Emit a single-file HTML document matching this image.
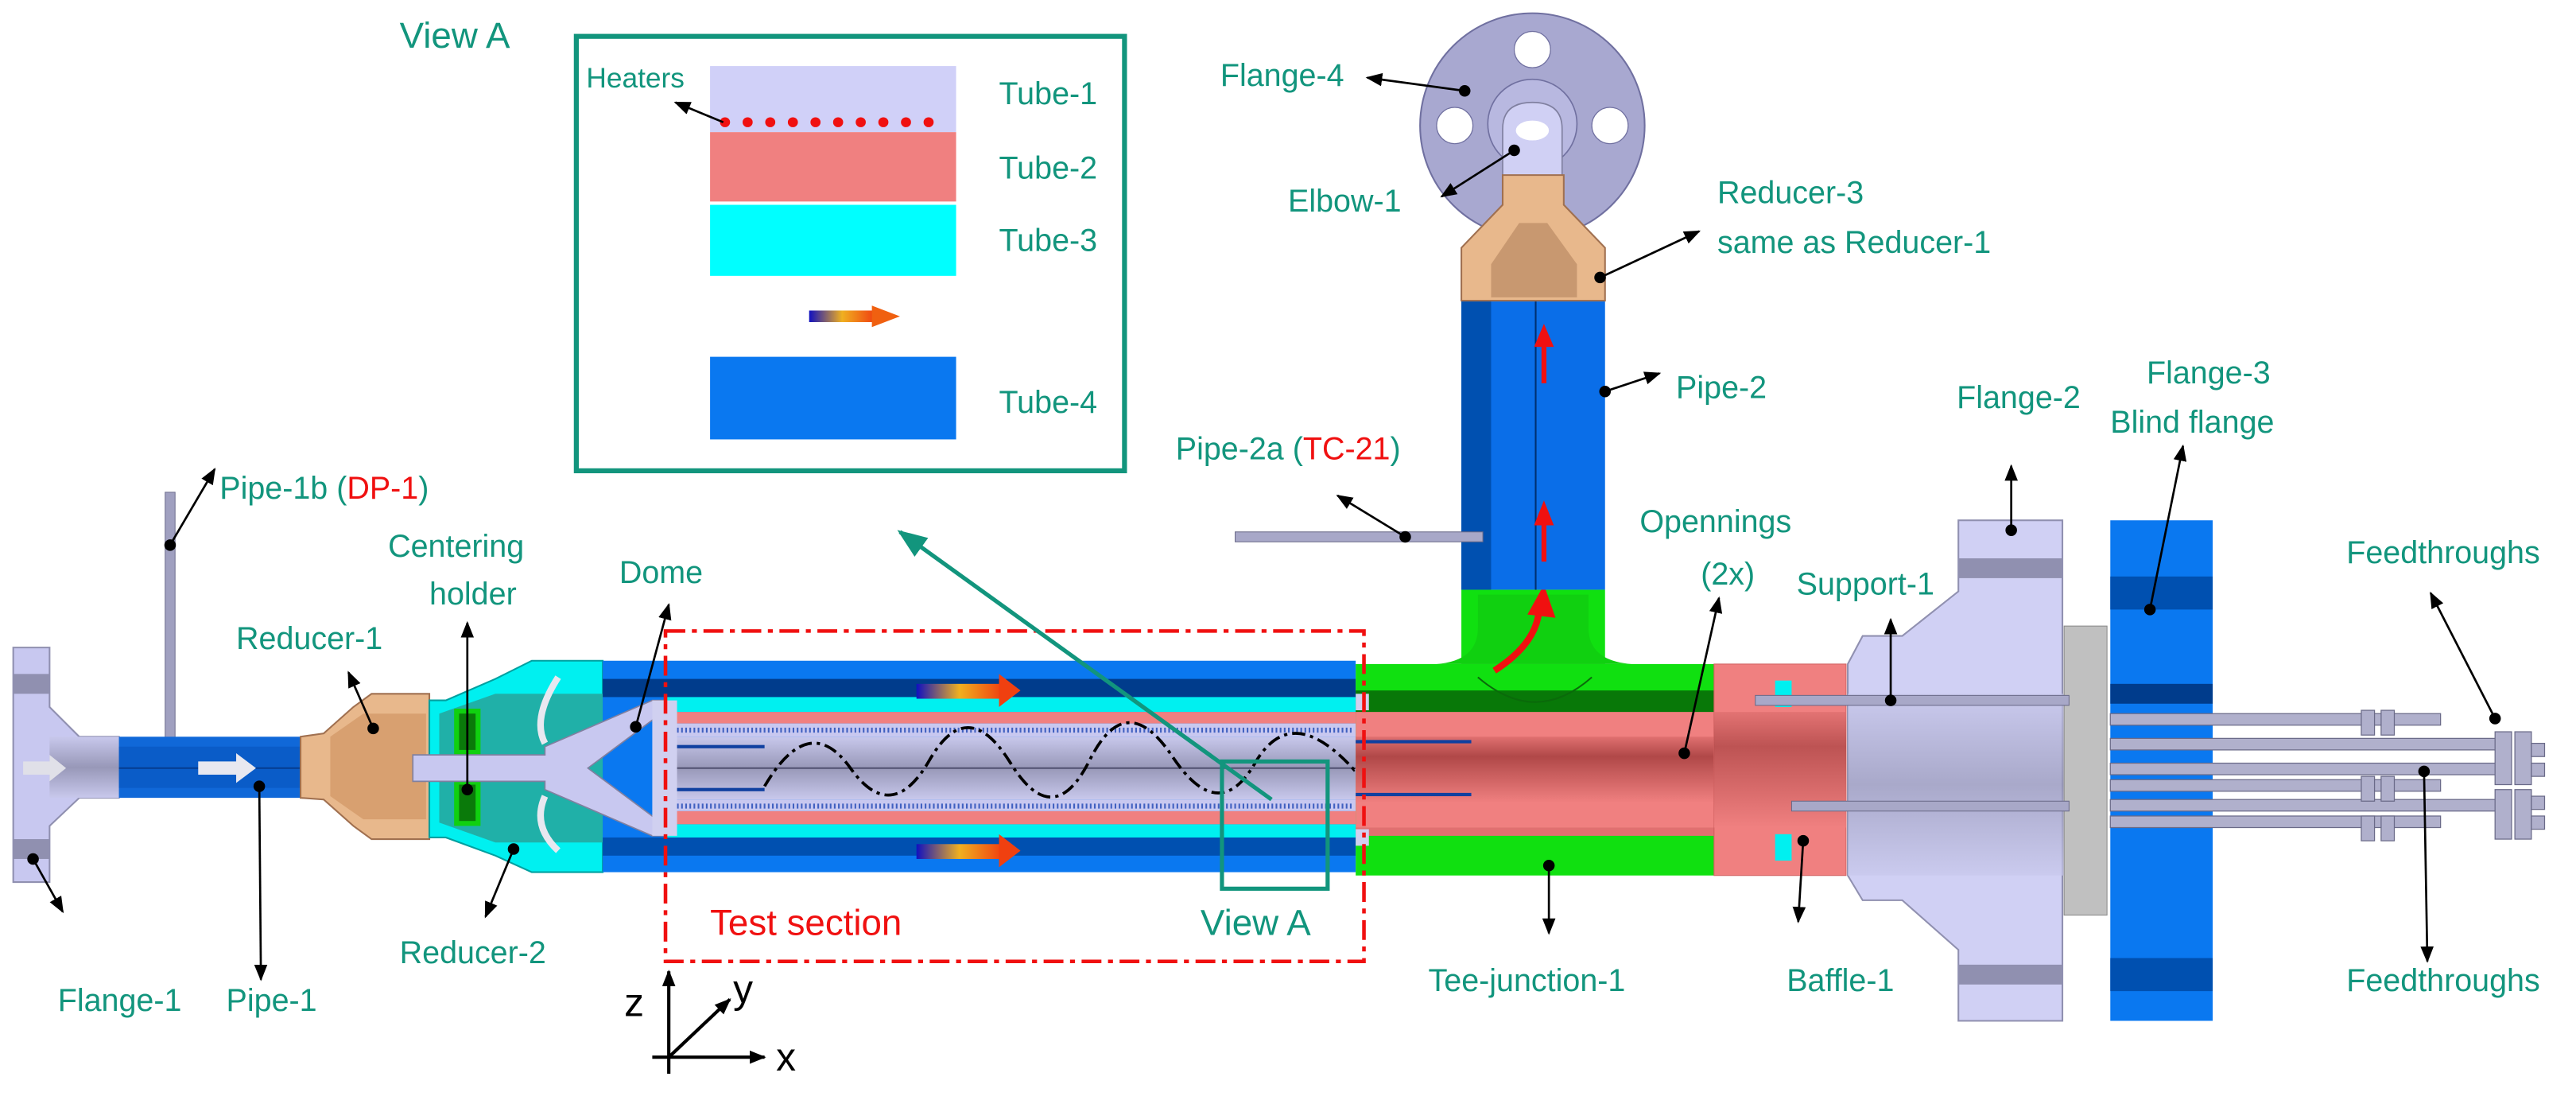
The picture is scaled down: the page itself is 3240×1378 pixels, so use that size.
<!DOCTYPE html>
<html><head><meta charset="utf-8"><style>
html,body{margin:0;padding:0;background:#fff}
svg{display:block}
text{font-family:"Liberation Sans",sans-serif;font-size:19px;fill:#12957d}
</style></head><body>
<svg width="3240" height="1378" viewBox="0 0 1560 663.5" xmlns="http://www.w3.org/2000/svg">
<defs>
<marker id="ah" markerWidth="10" markerHeight="10" refX="9" refY="5" orient="auto" markerUnits="userSpaceOnUse"><path d="M0,1 L10,5 L0,9 z" fill="#000"/></marker>
<marker id="dt" markerWidth="8" markerHeight="8" refX="4" refY="4" markerUnits="userSpaceOnUse"><circle cx="4" cy="4" r="3.5" fill="#000"/></marker>
<marker id="ahT" markerWidth="18" markerHeight="16" refX="16" refY="8" orient="auto" markerUnits="userSpaceOnUse"><path d="M0,1 L18,8 L0,15 z" fill="#12957d"/></marker>
<linearGradient id="hot" x1="0" x2="1"><stop offset="0" stop-color="#1010c0"/><stop offset=".5" stop-color="#f0b020"/><stop offset="1" stop-color="#f04010"/></linearGradient>
<linearGradient id="gry" x1="0" y1="0" x2="0" y2="1"><stop offset="0" stop-color="#c8c8ec"/><stop offset=".5" stop-color="#9898b8"/><stop offset="1" stop-color="#c8c8ec"/></linearGradient>
<linearGradient id="pk" x1="0" y1="0" x2="0" y2="1"><stop offset="0" stop-color="#e07070"/><stop offset=".3" stop-color="#b04848"/><stop offset="1" stop-color="#f08080"/></linearGradient>
</defs>

<!-- Flange-1 -->
<polygon points="8,392 30,392 30,428 48,446 72,446 72,483 48,483 30,500 30,534 8,534" fill="#c8c8f0" stroke="#9090b0" stroke-width="1"/>
<rect x="8" y="408" width="22" height="12" fill="#9090b0"/><rect x="8" y="508" width="22" height="12" fill="#9090b0"/>
<rect x="30" y="446" width="42" height="37" fill="url(#gry)"/>
<!-- Pipe-1b -->
<rect x="100" y="298" width="6" height="150" fill="#a0a0c0" stroke="#707090" stroke-width=".5"/>
<!-- Pipe-1 -->
<rect x="72" y="446" width="110" height="37" fill="#1068d8"/><rect x="72" y="452" width="110" height="25" fill="#0a5cc8"/>
<line x1="72" y1="465" x2="182" y2="465" stroke="#063c90" stroke-width="1"/>
<polygon points="14,461 30,461 30,457 40,465 30,473 30,469 14,469" fill="#e0e0e8"/>
<polygon points="120,461 143,461 143,456 155,465 143,474 143,469 120,469" fill="#e8e8f0"/>
<!-- Reducer-1 -->
<polygon points="182,446 196,444 214,428 225,420 260,420 260,508 225,508 214,500 196,484 182,483" fill="#e8b88c" stroke="#a07050" stroke-width="1"/>
<polygon points="200,446 220,432 258,432 258,496 220,496 200,482" fill="#d8a070"/>
<!-- Reducer-2 -->
<polygon points="260,424 270,424 300,411 322,400 365,400 365,528 322,528 300,518 270,507 260,507" fill="#00f0f0" stroke="#00a0a0" stroke-width="1"/>
<polygon points="266,432 300,420 365,420 365,510 300,510 266,498" fill="#20b0a8"/>
<!-- centering holder -->
<rect x="275" y="429" width="16" height="71" fill="#10d010"/>
<rect x="278" y="432" width="10" height="22" fill="#0a7a0a"/><rect x="278" y="475" width="10" height="22" fill="#0a7a0a"/>
<!-- Main pipe -->
<rect x="365" y="400" width="456" height="128" fill="#0a78f0"/>
<rect x="365" y="411" width="456" height="11" fill="#003c8c"/>
<rect x="365" y="507" width="456" height="11" fill="#0050b0"/>
<rect x="403" y="422" width="418" height="9" fill="#00f0f0"/>
<rect x="403" y="499" width="418" height="8" fill="#00f0f0"/>
<rect x="403" y="431" width="418" height="7" fill="#f08080"/>
<rect x="403" y="491" width="418" height="8" fill="#f08080"/>
<rect x="403" y="438" width="418" height="8" fill="#c8c8f0"/>
<rect x="403" y="484" width="418" height="7" fill="#c8c8f0"/>
<line x1="405" y1="442" x2="820" y2="442" stroke="#4060c0" stroke-width="3" stroke-dasharray="1,1.5"/>
<line x1="405" y1="488" x2="820" y2="488" stroke="#4060c0" stroke-width="3" stroke-dasharray="1,1.5"/>
<rect x="403" y="446" width="418" height="38" fill="url(#gry)"/>
<line x1="403" y1="465" x2="821" y2="465" stroke="#505070" stroke-width="1"/>
<rect x="403" y="451" width="60" height="2" fill="#1040a0"/><rect x="403" y="477" width="60" height="2" fill="#1040a0"/>
<!-- dome/inner lavender -->
<polygon points="250,457 330,457 330,452 395,424 403,424 403,430 356,465 403,500 403,506 395,506 330,478 330,473 250,473" fill="#c8c8f0" stroke="#8080a0" stroke-width=".8"/>
<path d="M338,410 Q322,435 330,450" stroke="#e8e8f0" stroke-width="4" fill="none"/>
<path d="M330,482 Q322,500 338,515" stroke="#e8e8f0" stroke-width="4" fill="none"/>
<polygon points="395,424 410,424 410,506 395,506" fill="#d0d0f0"/>
<!-- flow arrows -->
<rect x="555" y="414" width="52" height="9" fill="url(#hot)"/><polygon points="605,408 618,418 605,428" fill="#f04010"/>
<rect x="555" y="511" width="52" height="9" fill="url(#hot)"/><polygon points="605,505 618,515 605,525" fill="#f04010"/>
<!-- wavy -->
<path d="M463,476 Q490,430 515,465 T563,460 T612,462 T660,460 T710,458 T760,462 T820,466 Q850,440 870,465 L1240,468" stroke="#000" stroke-width="1.8" fill="none" stroke-dasharray="8,3,2,3"/>

<!-- Tee junction -->
<rect x="821" y="402" width="217" height="128" fill="#10e010"/>
<rect x="821" y="418" width="217" height="14" fill="#087808"/>
<path d="M885,402 L885,357 L972,357 L972,402" fill="#10e010"/>
<path d="M870,402 Q895,400 895,380 L895,360 L962,360 L962,380 Q962,400 988,402 Z" fill="#10d010"/>
<path d="M895,410 Q930,440 964,410" stroke="#0a6a0a" stroke-width="1" fill="none"/>
<rect x="821" y="431" width="217" height="70" fill="#f08080"/>
<rect x="821" y="446" width="217" height="40" fill="url(#pk)"/>
<rect x="821" y="501" width="217" height="5" fill="#e07070"/>
<rect x="821" y="448" width="70" height="2" fill="#1040a0"/><rect x="821" y="480" width="70" height="2" fill="#1040a0"/>
<rect x="821" y="420" width="8" height="10" fill="#d0d0f0"/><rect x="821" y="502" width="8" height="10" fill="#d0d0f0"/>
<path d="M905,406 Q930,390 932,370" stroke="#f01010" stroke-width="4" fill="none"/><polygon points="925,372 935,354 942,374" fill="#f01010"/>
<!-- Baffle -->
<rect x="1038" y="402" width="80" height="128" fill="#f08080" stroke="#d06060" stroke-width=".5"/>
<rect x="1038" y="431" width="80" height="70" fill="url(#pk)" opacity=".8"/>
<rect x="1075" y="412" width="10" height="16" fill="#00f0f0"/><rect x="1075" y="505" width="10" height="16" fill="#00f0f0"/>
<!-- Flange-2 -->
<polygon points="1119,402 1128,385 1152,385 1186,358 1186,315 1249,315 1249,618 1186,618 1186,575 1152,545 1128,545 1119,530" fill="#d0d0f4" stroke="#9090b0" stroke-width="1"/>
<rect x="1119" y="420" width="131" height="110" fill="url(#gry)" opacity=".7"/>
<rect x="1186" y="338" width="63" height="12" fill="#9090b0"/><rect x="1186" y="584" width="63" height="12" fill="#9090b0"/>
<rect x="1250" y="379" width="26" height="175" fill="#c0c0c0" stroke="#888" stroke-width=".5"/>
<!-- support rods -->
<rect x="1063" y="421" width="190" height="6" fill="#a8a8c8" stroke="#6a6a88" stroke-width=".5"/>
<rect x="1085" y="485" width="168" height="6" fill="#a8a8c8" stroke="#6a6a88" stroke-width=".5"/>
<!-- Flange-3 -->
<rect x="1278" y="315" width="62" height="303" fill="#0a78f0"/>
<rect x="1278" y="349" width="62" height="20" fill="#0050b0"/><rect x="1278" y="414" width="62" height="12" fill="#003c8c"/>
<rect x="1278" y="580" width="62" height="20" fill="#0050b0"/>
<!-- feedthroughs -->
<g fill="#b0b0cc" stroke="#6a6a88" stroke-width=".6">
<rect x="1278" y="432" width="200" height="7"/><rect x="1278" y="447" width="235" height="7"/>
<rect x="1278" y="462" width="235" height="7"/><rect x="1278" y="472" width="200" height="7"/>
<rect x="1278" y="484" width="235" height="7"/><rect x="1278" y="494" width="200" height="7"/>
<rect x="1430" y="430" width="8" height="15" /><rect x="1442" y="430" width="8" height="15"/>
<rect x="1430" y="470" width="8" height="15"/><rect x="1442" y="470" width="8" height="15"/>
<rect x="1430" y="494" width="8" height="15"/><rect x="1442" y="494" width="8" height="15"/>
<rect x="1511" y="443" width="10" height="32"/><rect x="1523" y="443" width="10" height="32"/><rect x="1533" y="450" width="8" height="8"/><rect x="1533" y="462" width="8" height="8"/>
<rect x="1511" y="478" width="10" height="30"/><rect x="1523" y="478" width="10" height="30"/><rect x="1533" y="482" width="8" height="8"/><rect x="1533" y="494" width="8" height="8"/>
</g>
<!-- Flange-4 -->
<circle cx="928" cy="76" r="68" fill="#a8a8d0" stroke="#7070a0"/>
<circle cx="928" cy="30" r="11" fill="#fff" stroke="#7070a0" stroke-width=".6"/>
<circle cx="881" cy="76" r="11" fill="#fff" stroke="#7070a0" stroke-width=".6"/>
<circle cx="975" cy="76" r="11" fill="#fff" stroke="#7070a0" stroke-width=".6"/>
<circle cx="928" cy="75" r="27" fill="#b8b8e0" stroke="#7070a0" stroke-width=".8"/>
<path d="M910,110 L910,78 Q910,62 928,62 Q946,62 946,78 L946,110 Z" fill="#d0d0f4" stroke="#8080a0" stroke-width=".8"/>
<ellipse cx="928" cy="79" rx="10" ry="6" fill="#fff"/>
<!-- Pipe-2 -->
<rect x="885" y="182" width="87" height="175" fill="#0a6ee8"/>
<rect x="885" y="182" width="18" height="175" fill="#0050b0"/>
<line x1="930" y1="182" x2="930" y2="357" stroke="#003070" stroke-width="1"/>
<rect x="748" y="322" width="150" height="6" fill="#a8a8c8" stroke="#6a6a88" stroke-width=".5"/>
<line x1="935" y1="232" x2="935" y2="205" stroke="#f01010" stroke-width="3"/><polygon points="929,210 935,196 941,210" fill="#f01010"/>
<line x1="935" y1="340" x2="935" y2="315" stroke="#f01010" stroke-width="3"/><polygon points="929,318 935,303 941,318" fill="#f01010"/>
<!-- Reducer-3 -->
<polygon points="910,106 947,106 947,124 972,150 972,182 885,182 885,150 910,124" fill="#e8b88c" stroke="#a07050" stroke-width="1"/>
<polygon points="903,180 903,160 920,135 937,135 955,160 955,180" fill="#c89870"/>

<!-- Test section dashed box -->
<rect x="403" y="382" width="423" height="200" fill="none" stroke="#f01010" stroke-width="2.2" stroke-dasharray="12,4,3,4"/>
<rect x="740" y="461" width="64" height="77" fill="none" stroke="#12957d" stroke-width="2.5"/>
<line x1="770" y1="484" x2="545" y2="322" stroke="#12957d" stroke-width="2.5" marker-end="url(#ahT)"/>

<!-- View A box -->
<rect x="349" y="22" width="332" height="263" fill="#fff" stroke="#12957d" stroke-width="3"/>
<rect x="430" y="40" width="149" height="40" fill="#d0d0f8"/>
<line x1="439" y1="74" x2="576" y2="74" stroke="#f01010" stroke-width="6" stroke-dasharray="0.1,13.6" stroke-linecap="round"/>
<rect x="430" y="80" width="149" height="42" fill="#f08080"/>
<rect x="430" y="124" width="149" height="43" fill="#00ffff"/>
<rect x="490" y="188" width="40" height="7" fill="url(#hot)"/><polygon points="528,185 545,191.5 528,198" fill="#f06010"/>
<rect x="430" y="216" width="149" height="50" fill="#0a78f0"/>
<text x="242" y="29" style="font-size:22px">View A</text>
<text x="355" y="53" style="font-size:17px">Heaters</text>
<line x1="438" y1="74" x2="409" y2="62" stroke="#000" stroke-width="1.3" marker-end="url(#ah)"/>
<text x="605" y="63">Tube-1</text><text x="605" y="108">Tube-2</text><text x="605" y="152">Tube-3</text><text x="605" y="250">Tube-4</text>

<!-- Leader lines -->
<g stroke="#000" stroke-width="1.3" fill="none" marker-start="url(#dt)" marker-end="url(#ah)">
<line x1="20" y1="520" x2="38" y2="552"/>
<line x1="157" y1="476" x2="158" y2="593"/>
<line x1="103" y1="330" x2="130" y2="284"/>
<line x1="226" y1="441" x2="211" y2="407"/>
<line x1="283" y1="478" x2="283" y2="377"/>
<line x1="385" y1="440" x2="405" y2="366"/>
<line x1="311" y1="514" x2="294" y2="555"/>
<line x1="938" y1="524" x2="938" y2="565"/>
<line x1="1092" y1="509" x2="1089" y2="558"/>
<line x1="1020" y1="456" x2="1041" y2="362"/>
<line x1="1145" y1="424" x2="1145" y2="375"/>
<line x1="1218" y1="321" x2="1218" y2="282"/>
<line x1="1302" y1="369" x2="1322" y2="270"/>
<line x1="1511" y1="435" x2="1472" y2="359"/>
<line x1="1468" y1="467" x2="1470" y2="582"/>
<line x1="851" y1="325" x2="810" y2="300"/>
<line x1="972" y1="237" x2="1005" y2="226"/>
<line x1="969" y1="168" x2="1029" y2="140"/>
<line x1="917" y1="91" x2="873" y2="119"/>
<line x1="887" y1="55" x2="828" y2="47"/>
</g>

<!-- Labels -->
<text x="739" y="52">Flange-4</text>
<text x="780" y="128">Elbow-1</text>
<text x="1040" y="123">Reducer-3</text>
<text x="1040" y="153">same as Reducer-1</text>
<text x="1015" y="241">Pipe-2</text>
<text x="712" y="278">Pipe-2a (<tspan fill="#f01010">TC-21</tspan>)</text>
<text x="1185" y="247">Flange-2</text>
<text x="1300" y="232">Flange-3</text>
<text x="1278" y="262">Blind flange</text>
<text x="993" y="322">Opennings</text>
<text x="1030" y="354">(2x)</text>
<text x="1088" y="360">Support-1</text>
<text x="1421" y="341">Feedthroughs</text>
<text x="1421" y="600">Feedthroughs</text>
<text x="133" y="302">Pipe-1b (<tspan fill="#f01010">DP-1</tspan>)</text>
<text x="235" y="337">Centering</text>
<text x="260" y="366">holder</text>
<text x="143" y="393">Reducer-1</text>
<text x="375" y="353">Dome</text>
<text x="35" y="612">Flange-1</text>
<text x="137" y="612">Pipe-1</text>
<text x="242" y="583">Reducer-2</text>
<text x="430" y="566" style="fill:#f01010;font-size:22px">Test section</text>
<text x="727" y="566" style="font-size:22px">View A</text>
<text x="865" y="600">Tee-junction-1</text>
<text x="1082" y="600">Baffle-1</text>

<!-- axes -->
<g stroke="#000" stroke-width="2" fill="none" marker-end="url(#ah)">
<line x1="405" y1="650" x2="405" y2="588"/>
<line x1="395" y1="640" x2="463" y2="640"/>
<line x1="405" y1="640" x2="442" y2="605"/>
</g>
<text x="378" y="615" style="fill:#000;font-size:24px">z</text>
<text x="444" y="607" style="fill:#000;font-size:24px">y</text>
<text x="470" y="648" style="fill:#000;font-size:24px">x</text>
</svg>
</body></html>
